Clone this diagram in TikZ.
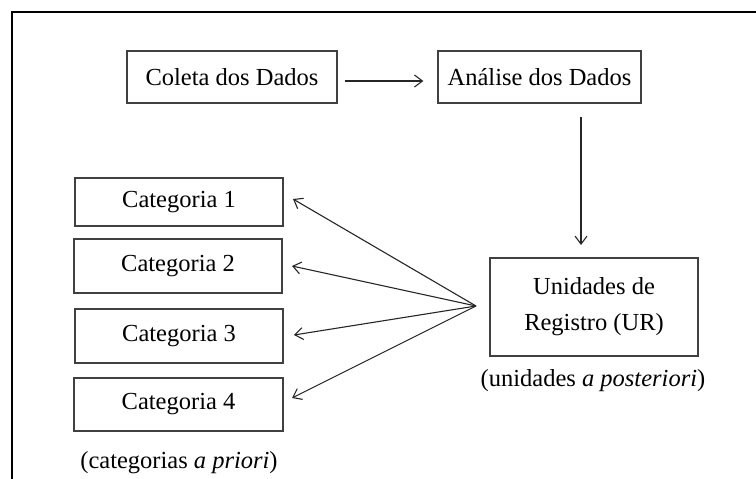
\documentclass[tikz,border=0pt]{standalone}
\usepackage{fontspec}
\setmainfont{Liberation Serif}
\usetikzlibrary{arrows.meta}
\begin{document}
\begin{tikzpicture}[x=1pt,y=-1pt,
  box/.style={draw=black!75,line width=1.3pt,minimum height=50pt,inner sep=0pt,font=\fontsize{24.5}{36}\selectfont,align=center},
  lbl/.style={inner sep=0pt,font=\fontsize{24.5}{28}\selectfont},
  arr/.style={draw=black!85,line width=1.1pt,-{Straight Barb[length=8pt,width=12pt,line width=1.1pt]}}]
\useasboundingbox (0,0) rectangle (756,479);
\draw[line width=2pt] (11,11.5) -- (756,11.5);
\draw[line width=2pt] (11.5,11) -- (11.5,479);
\node[box,minimum width=210pt,minimum height=52pt] (coleta) at (232,77) {Coleta dos Dados};
\node[box,minimum width=203pt,minimum height=52pt] (analise) at (539.5,77) {Análise dos Dados};
\node[box,minimum width=208pt,minimum height=98pt] (ur) at (594,307) {Unidades de\\Registro (UR)};
\node[lbl] (urlbl) at (593,381) {(unidades \textit{a posteriori})};
\node[box,minimum width=208pt,minimum height=48pt] (c1) at (179,202) {Categoria 1};
\node[box,minimum width=208pt,minimum height=54pt] (c2) at (178,266) {Categoria 2};
\node[box,minimum width=208pt,minimum height=54pt] (c3) at (179,336) {Categoria 3};
\node[box,minimum width=209pt,minimum height=53pt] (c4) at (178.5,404.5) {Categoria 4};
\node[lbl] (clbl) at (179,463) {(categorias \textit{a priori})};
\draw[arr,shorten <=7pt,shorten >=14pt] (coleta.east |- 0,81) -- (analise.west |- 0,81);
\coordinate (vtop) at (581,117);
\coordinate (vbot) at (581,245);
\draw[arr] (vtop) -- (vbot);
\coordinate (hub) at (476,306);
\coordinate (t1) at (293,199);
\coordinate (t2) at (292,266);
\coordinate (t3) at (294,335);
\coordinate (t4) at (292,398);
\foreach \t in {t1,t2,t3,t4} \draw[arr] (hub) -- (\t);
\end{tikzpicture}
\end{document}
